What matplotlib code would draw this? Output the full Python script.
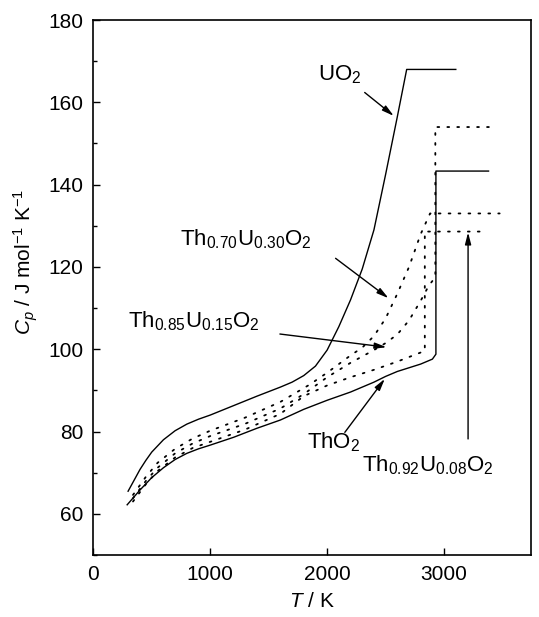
import matplotlib
matplotlib.use("Agg")
import matplotlib.pyplot as plt
from matplotlib.ticker import MultipleLocator

# heat capacity curves, T in K, Cp in J/mol/K
t_uo2 = [298, 350, 400, 450, 500, 600, 700, 800, 900, 1000, 1200, 1400, 1600, 1700, 1800,
         1900, 2000, 2100, 2200, 2300, 2400, 2500, 2600, 2680, 3100]
cp_uo2 = [65.5, 68.2, 70.8, 73.0, 75.0, 78.0, 80.2, 81.8, 83.0, 84.0, 86.3, 88.6, 90.8, 92.0, 93.6,
          95.9, 99.8, 105.5, 112.0, 119.5, 129.0, 142.5, 156.5, 168.0, 168.0]

t_tho2 = [290, 400, 500, 600, 700, 800, 900, 1000, 1200, 1400, 1600, 1800, 2000, 2200,
          2400, 2500, 2600, 2800, 2900, 2930, 2930, 3380]
cp_tho2 = [62.2, 65.8, 68.8, 71.2, 73.2, 74.7, 75.8, 76.7, 78.6, 80.8, 82.8, 85.4, 87.6, 89.6,
           92.0, 93.4, 94.6, 96.4, 97.6, 98.8, 143.3, 143.3]

t_th70 = [340, 450, 550, 700, 850, 1000, 1300, 1600, 1850, 2000, 2100, 2200, 2300, 2400, 2500,
          2600, 2700, 2800, 2880, 3475]
cp_th70 = [64.6, 69.0, 72.4, 75.8, 78.3, 80.2, 83.4, 87.2, 91.4, 94.3, 96.4, 98.5, 100.4, 103.2, 107.5,
           113.5, 120.0, 128.0, 133.0, 133.0]

t_th85 = [340, 450, 550, 700, 850, 1000, 1300, 1600, 1800, 2000, 2200, 2400, 2500, 2600, 2700,
          2800, 2870, 2925, 2925, 3410]
cp_th85 = [63.8, 68.0, 71.2, 74.7, 77.1, 78.9, 81.9, 85.6, 89.1, 93.2, 96.7, 99.8, 101.5, 103.6, 107.0,
           111.8, 115.5, 117.5, 154.0, 154.0]

t_th92 = [340, 450, 550, 700, 850, 1000, 1300, 1600, 1800, 2000, 2200, 2400, 2600, 2835, 2835, 3355]
cp_th92 = [63.0, 67.2, 70.4, 73.7, 76.0, 77.5, 80.5, 84.3, 88.6, 91.2, 93.2, 95.0, 97.0, 99.6, 128.6, 128.6]

plt.rcParams["font.family"] = ["Liberation Sans", "DejaVu Sans"]
plt.rcParams["mathtext.fontset"] = "custom"
plt.rcParams["mathtext.rm"] = "Liberation Sans"
plt.rcParams["mathtext.it"] = "Liberation Sans:italic"

fig = plt.figure(figsize=(5.39, 6.17), dpi=100)
ax = fig.add_axes([0.173, 0.1005, 0.8115, 0.867])

# solid lines for the end members, dotted for the mixed oxides
ax.plot(t_uo2, cp_uo2, color="black", lw=1.0)
ax.plot(t_tho2, cp_tho2, color="black", lw=1.0)
dots = dict(color="black", lw=1.3, linestyle=(0, (1, 4.5)), dash_capstyle="round")
ax.plot(t_th70, cp_th70, **dots)
ax.plot(t_th85, cp_th85, **dots)
ax.plot(t_th92, cp_th92, **dots)

# labels with arrows pointing at each curve
arr = dict(arrowstyle="-|>,head_length=0.7,head_width=0.18", color="black", lw=1.0,
           shrinkA=0, shrinkB=0)
fs = 16
ax.text(1918, 166.8, "UO$_2$", fontsize=fs, va="center", ha="left")
ax.annotate("", xy=(2570, 156.7), xytext=(2321, 162.4), arrowprops=arr)
ax.text(741, 126.7, "Th$_{0.70}$U$_{0.30}$O$_2$", fontsize=fs, va="center", ha="left")
ax.annotate("", xy=(2525, 112.4), xytext=(2072, 122.1), arrowprops=arr)
ax.text(299, 106.9, "Th$_{0.85}$U$_{0.15}$O$_2$", fontsize=fs, va="center", ha="left")
ax.annotate("", xy=(2508, 100.5), xytext=(1596, 103.7), arrowprops=arr)
ax.text(1824, 77.4, "ThO$_2$", fontsize=fs, va="center", ha="left")
ax.annotate("", xy=(2493, 92.8), xytext=(2151, 79.8), arrowprops=arr)
ax.text(2294, 71.7, "Th$_{0.92}$U$_{0.08}$O$_2$", fontsize=fs, va="center", ha="left")
ax.annotate("", xy=(3205, 128.4), xytext=(3205, 78.2), arrowprops=arr)

ax.set_xlim(0, 3740)
ax.set_ylim(50, 180)
ax.xaxis.set_major_locator(MultipleLocator(1000))
ax.yaxis.set_major_locator(MultipleLocator(20))
ax.yaxis.set_minor_locator(MultipleLocator(10))
ax.tick_params(which="both", direction="in", top=False, right=False, labelsize=15, width=1.0)
ax.tick_params(which="major", length=5, pad=7)
ax.tick_params(which="minor", length=3)
for s in ax.spines.values():
    s.set_linewidth(1.2)

ax.set_xlabel("$T$ / K", fontsize=15, labelpad=6)
ax.set_ylabel("$C_p$ / J mol$^{-1}$ K$^{-1}$", fontsize=15)
ax.yaxis.set_label_coords(-0.122, 0.548)

fig.savefig("out.png", dpi=100)
